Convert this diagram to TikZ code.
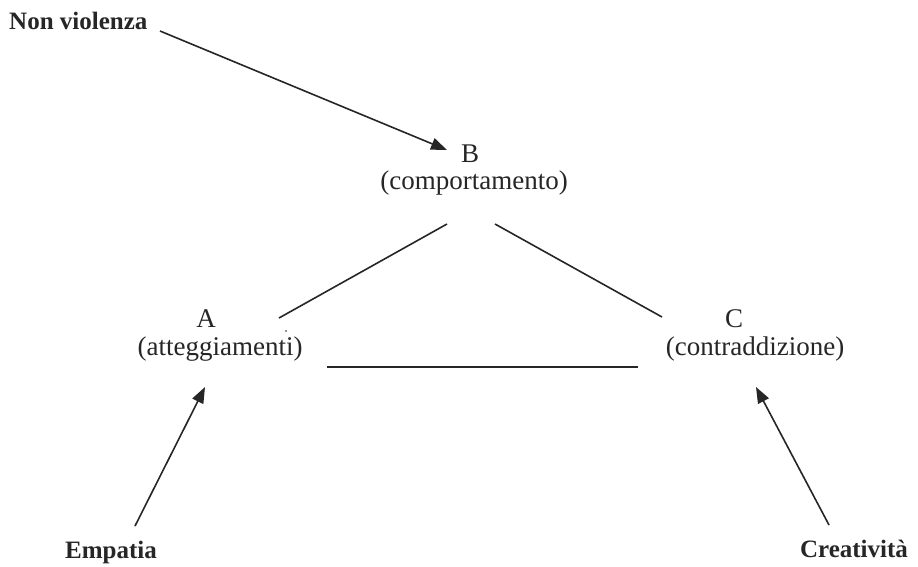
\documentclass[tikz,border=0pt]{standalone}
\usepackage{fontspec}
\setmainfont{Liberation Serif}
\usetikzlibrary{arrows.meta}
\definecolor{ink}{HTML}{262626}
\begin{document}
\begin{tikzpicture}[x=1pt,y=-1pt,
  lbl/.style={inner sep=0pt, anchor=base, font=\fontsize{27}{30}\selectfont, text=ink},
  blbl/.style={inner sep=0pt, anchor=base, font=\fontsize{25}{28}\selectfont\bfseries, text=ink},
  conn/.style={line width=1.6pt, draw=ink},
  arr/.style={conn, -{Triangle[length=16pt,width=12pt]}}]
\useasboundingbox[fill=white] (0,0) rectangle (918,566);
% labels
\node[blbl, anchor=base west] (nv) at (9,29) {Non violenza};
\node[lbl] (B) at (470,162) {B};
\node[lbl] (Bt) at (474,189) {(comportamento)};
\node[lbl] (A) at (206,327) {A};
\node[lbl] (At) at (220,355) {(atteggiamenti)};
\node[lbl] (C) at (734,327) {C};
\node[lbl] (Ct) at (755,355) {(contraddizione)};
\node[blbl] (emp) at (111,558) {Empatia};
\node[blbl] (cre) at (854,557) {Creatività};
% speck
\fill[ink] (286,331) circle (0.9pt);
% connector ends
\coordinate (nv0) at (160,31);  \coordinate (nv1) at (447,150);
\coordinate (ba0) at (447,224); \coordinate (ba1) at (279,318);
\coordinate (bc0) at (495,224); \coordinate (bc1) at (662,317);
\coordinate (ac0) at (327,367); \coordinate (ac1) at (638,367);
\coordinate (e0) at (135,526);  \coordinate (e1) at (205,387);
\coordinate (c0) at (829,525);  \coordinate (c1) at (756,387);
% connectors
\draw[arr] (nv0) -- (nv1);
\draw[conn] (ba0) -- (ba1);
\draw[conn] (bc0) -- (bc1);
\draw[conn] (ac0) -- (ac1);
\draw[arr] (e0) -- (e1);
\draw[arr] (c0) -- (c1);
\end{tikzpicture}
\end{document}
